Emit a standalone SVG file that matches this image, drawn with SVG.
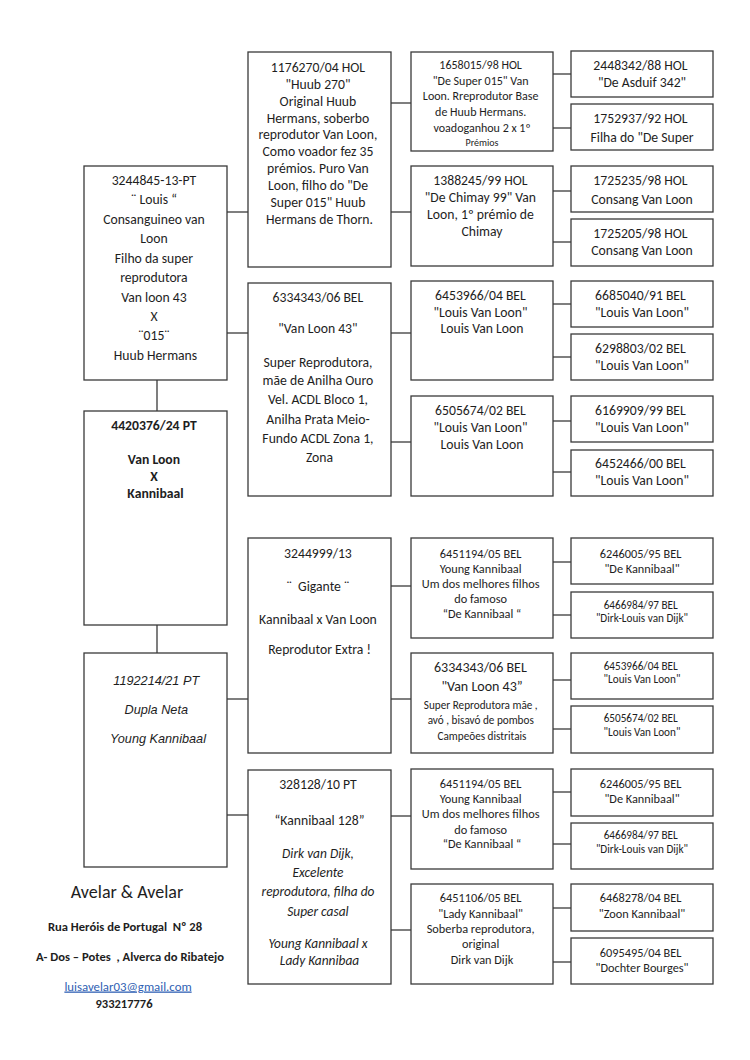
<svg xmlns="http://www.w3.org/2000/svg" width="750" height="1060" viewBox="0 0 750 1060">
<style>
  rect.box { fill: #ffffff; stroke: #3a3a3a; stroke-width: 1.3; }
  .conn line { stroke: #3a3a3a; stroke-width: 1.3; }
  text { font-family: Carlito, Lato, "Liberation Sans", sans-serif; fill: #1e1e1e; text-anchor: middle; font-size: 13.7px; }
  .s105 { font-size: 12px; }
  .s11 { font-size: 12.3px; }
  .s10 { font-size: 11.2px; }
  .s13 { font-size: 14px; }
  .it { font-style: italic; font-size: 13.4px; }
  .b { font-weight: bold; }
  .arial { font-family: "Liberation Sans", Arial, sans-serif; font-style: italic; font-size: 12.7px; }
</style>
<rect width="750" height="1060" fill="#ffffff"/>

<g id="connectors" class="conn">
  <line x1="227" y1="212" x2="248" y2="212"/>
  <line x1="227" y1="333" x2="248" y2="333"/>
  <line x1="157" y1="380" x2="157" y2="411"/>
  <line x1="157" y1="625" x2="157" y2="653"/>
  <line x1="227" y1="699" x2="248" y2="699"/>
  <line x1="227" y1="815" x2="248" y2="815"/>
  <line x1="391" y1="103" x2="411" y2="103"/>
  <line x1="391" y1="212" x2="411" y2="212"/>
  <line x1="553" y1="74" x2="571" y2="74"/>
  <line x1="553" y1="128" x2="571" y2="128"/>
  <line x1="553" y1="191" x2="571" y2="191"/>
  <line x1="553" y1="242" x2="571" y2="242"/>
  <line x1="391" y1="333" x2="411" y2="333"/>
  <line x1="391" y1="442" x2="411" y2="442"/>
  <line x1="553" y1="304" x2="571" y2="304"/>
  <line x1="553" y1="357" x2="571" y2="357"/>
  <line x1="553" y1="421" x2="571" y2="421"/>
  <line x1="553" y1="472" x2="571" y2="472"/>
  <line x1="391" y1="586" x2="411" y2="586"/>
  <line x1="391" y1="699" x2="411" y2="699"/>
  <line x1="553" y1="562" x2="571" y2="562"/>
  <line x1="553" y1="615" x2="571" y2="615"/>
  <line x1="553" y1="680" x2="571" y2="680"/>
  <line x1="553" y1="729" x2="571" y2="729"/>
  <line x1="391" y1="816" x2="411" y2="816"/>
  <line x1="391" y1="930" x2="411" y2="930"/>
  <line x1="553" y1="792" x2="571" y2="792"/>
  <line x1="553" y1="844" x2="571" y2="844"/>
  <line x1="553" y1="908" x2="571" y2="908"/>
  <line x1="553" y1="962" x2="571" y2="962"/>
</g>

<!-- Column 1 -->
<g id="n3244845">
  <rect class="box" x="84" y="166" width="143" height="214"/>
  <text>
    <tspan x="155.5" y="185">3244845-13-PT</tspan>
    <tspan x="155.5" y="204">¨ Louis “</tspan>
    <tspan x="155.5" y="224">Consanguineo van</tspan>
    <tspan x="155.5" y="243">Loon</tspan>
    <tspan x="155.5" y="263">Filho da super</tspan>
    <tspan x="155.5" y="282">reprodutora</tspan>
    <tspan x="155.5" y="302">Van loon 43</tspan>
    <tspan x="155.5" y="321">X</tspan>
    <tspan x="155.5" y="340">¨015¨</tspan>
    <tspan x="155.5" y="360">Huub Hermans</tspan>
  </text>
</g>
<g id="n4420376">
  <rect class="box" x="84" y="411" width="143" height="214"/>
  <text class="b">
    <tspan x="155.5" y="430">4420376/24 PT</tspan>
    <tspan x="155.5" y="464">Van Loon</tspan>
    <tspan x="155.5" y="481">X</tspan>
    <tspan x="155.5" y="498">Kannibaal</tspan>
  </text>
</g>
<g id="n1192214">
  <rect class="box" x="84" y="653" width="143" height="214"/>
  <text class="arial">
    <tspan x="158" y="684.5">1192214/21 PT</tspan>
    <tspan x="158" y="713.5">Dupla Neta</tspan>
    <tspan x="158" y="742.5">Young Kannibaal</tspan>
  </text>
</g>

<!-- Column 2 -->
<g id="n1176270">
  <rect class="box" x="248" y="52" width="143" height="215"/>
  <text>
    <tspan x="319.5" y="71.5">1176270/04 HOL</tspan>
    <tspan x="319.5" y="88.5">"Huub 270"</tspan>
    <tspan x="319.5" y="105.5">Original Huub</tspan>
    <tspan x="319.5" y="122.5">Hermans, soberbo</tspan>
    <tspan x="319.5" y="139">reprodutor Van Loon,</tspan>
    <tspan x="319.5" y="156">Como voador fez 35</tspan>
    <tspan x="319.5" y="172.5">prémios. Puro Van</tspan>
    <tspan x="319.5" y="189.5">Loon, filho do "De</tspan>
    <tspan x="319.5" y="207">Super 015" Huub</tspan>
    <tspan x="319.5" y="223.5">Hermans de Thorn.</tspan>
  </text>
</g>
<g id="n6334343a">
  <rect class="box" x="248" y="283" width="143" height="213"/>
  <text>
    <tspan x="319.5" y="302">6334343/06 BEL</tspan>
    <tspan x="319.5" y="333">"Van Loon 43"</tspan>
    <tspan x="319.5" y="367">Super Reprodutora,</tspan>
    <tspan x="319.5" y="385">mãe de Anilha Ouro</tspan>
    <tspan x="319.5" y="404">Vel. ACDL Bloco 1,</tspan>
    <tspan x="319.5" y="424">Anilha Prata Meio-</tspan>
    <tspan x="319.5" y="443">Fundo ACDL Zona 1,</tspan>
    <tspan x="319.5" y="462">Zona</tspan>
  </text>
</g>
<g id="n3244999">
  <rect class="box" x="248" y="538" width="143" height="215"/>
  <text>
    <tspan x="319.5" y="557.5">3244999/13</tspan>
    <tspan x="319.5" y="591" xml:space="preserve">¨  Gigante ¨</tspan>
    <tspan x="319.5" y="624">Kannibaal x Van Loon</tspan>
    <tspan x="319.5" y="654">Reprodutor Extra !</tspan>
  </text>
</g>
<g id="n328128">
  <rect class="box" x="248" y="770" width="143" height="214"/>
  <text>
    <tspan x="319.5" y="789">328128/10 PT</tspan>
    <tspan x="319.5" y="825">“Kannibaal 128”</tspan>
  </text>
  <text class="it">
    <tspan x="319.5" y="858">Dirk van Dijk,</tspan>
    <tspan x="319.5" y="877">Excelente</tspan>
    <tspan x="319.5" y="896">reprodutora, filha do</tspan>
    <tspan x="319.5" y="916">Super casal</tspan>
    <tspan x="319.5" y="948">Young Kannibaal x</tspan>
    <tspan x="319.5" y="965">Lady Kannibaa</tspan>
  </text>
</g>

<!-- Column 3 -->
<g id="n1658015">
  <rect class="box" x="411" y="52" width="142" height="99"/>
  <text class="s105">
    <tspan x="482" y="69">1658015/98 HOL</tspan>
    <tspan x="482" y="84.5">"De Super 015" Van</tspan>
    <tspan x="482" y="100">Loon. Rreprodutor Base</tspan>
    <tspan x="482" y="116">de Huub Hermans.</tspan>
    <tspan x="482" y="132">voadoganhou 2 x 1º</tspan>
  </text>
  <text style="font-size:10px"><tspan x="482" y="145.5">Prémios</tspan></text>
</g>
<g id="n1388245">
  <rect class="box" x="411" y="166" width="142" height="100"/>
  <text>
    <tspan x="482" y="185">1388245/99 HOL</tspan>
    <tspan x="482" y="202">"De Chimay 99" Van</tspan>
    <tspan x="482" y="219">Loon, 1º prémio de</tspan>
    <tspan x="482" y="236">Chimay</tspan>
  </text>
</g>
<g id="n6453966a">
  <rect class="box" x="411" y="281" width="142" height="99"/>
  <text>
    <tspan x="482" y="300">6453966/04 BEL</tspan>
    <tspan x="482" y="317">"Louis Van Loon"</tspan>
    <tspan x="482" y="333">Louis Van Loon</tspan>
  </text>
</g>
<g id="n6505674a">
  <rect class="box" x="411" y="396" width="142" height="100"/>
  <text>
    <tspan x="482" y="415">6505674/02 BEL</tspan>
    <tspan x="482" y="432">"Louis Van Loon"</tspan>
    <tspan x="482" y="449">Louis Van Loon</tspan>
  </text>
</g>
<g id="n6451194a">
  <rect class="box" x="411" y="538" width="142" height="100"/>
  <text class="s11">
    <tspan x="482" y="557.5">6451194/05 BEL</tspan>
    <tspan x="482" y="572.5">Young Kannibaal</tspan>
    <tspan x="482" y="587.5">Um dos melhores filhos</tspan>
    <tspan x="482" y="602.5">do famoso</tspan>
    <tspan x="482" y="617.5">“De Kannibaal “</tspan>
  </text>
</g>
<g id="n6334343b">
  <rect class="box" x="411" y="653" width="142" height="100"/>
  <text class="s13">
    <tspan x="482" y="672">6334343/06 BEL</tspan>
    <tspan x="482" y="691">"Van Loon 43”</tspan>
  </text>
  <text class="s10">
    <tspan x="482" y="709">Super Reprodutora mãe ,</tspan>
    <tspan x="482" y="724">avó , bisavó de pombos</tspan>
    <tspan x="482" y="740">Campeões distritais</tspan>
  </text>
</g>
<g id="n6451194b">
  <rect class="box" x="411" y="769" width="142" height="100"/>
  <text class="s11">
    <tspan x="482" y="787.5">6451194/05 BEL</tspan>
    <tspan x="482" y="802.5">Young Kannibaal</tspan>
    <tspan x="482" y="817.5">Um dos melhores filhos</tspan>
    <tspan x="482" y="833.5">do famoso</tspan>
    <tspan x="482" y="847.5">“De Kannibaal “</tspan>
  </text>
</g>
<g id="n6451106">
  <rect class="box" x="411" y="884" width="142" height="100"/>
  <text class="s11">
    <tspan x="482" y="901.5">6451106/05 BEL</tspan>
    <tspan x="482" y="917.5">"Lady Kannibaal"</tspan>
    <tspan x="482" y="932.5">Soberba reprodutora,</tspan>
    <tspan x="482" y="947.5">original</tspan>
    <tspan x="482" y="963.5">Dirk van Dijk</tspan>
  </text>
</g>

<!-- Column 4 -->
<g id="n2448342">
  <rect class="box" x="571" y="51" width="142" height="46"/>
  <text>
    <tspan x="642" y="70">2448342/88 HOL</tspan>
    <tspan x="642" y="87">"De Asduif 342"</tspan>
  </text>
</g>
<g id="n1752937">
  <rect class="box" x="571" y="104" width="142" height="46"/>
  <text>
    <tspan x="642" y="123">1752937/92 HOL</tspan>
    <tspan x="642" y="142">Filha do "De Super</tspan>
  </text>
</g>
<g id="n1725235">
  <rect class="box" x="571" y="166" width="142" height="46"/>
  <text>
    <tspan x="642" y="185">1725235/98 HOL</tspan>
    <tspan x="642" y="204">Consang Van Loon</tspan>
  </text>
</g>
<g id="n1725205">
  <rect class="box" x="571" y="219" width="142" height="47"/>
  <text>
    <tspan x="642" y="238">1725205/98 HOL</tspan>
    <tspan x="642" y="255">Consang Van Loon</tspan>
  </text>
</g>
<g id="n6685040">
  <rect class="box" x="571" y="281" width="142" height="46"/>
  <text>
    <tspan x="642" y="300">6685040/91 BEL</tspan>
    <tspan x="642" y="317">"Louis Van Loon"</tspan>
  </text>
</g>
<g id="n6298803">
  <rect class="box" x="571" y="334" width="142" height="46"/>
  <text>
    <tspan x="642" y="353">6298803/02 BEL</tspan>
    <tspan x="642" y="370">"Louis Van Loon"</tspan>
  </text>
</g>
<g id="n6169909">
  <rect class="box" x="571" y="396" width="142" height="46"/>
  <text>
    <tspan x="642" y="415">6169909/99 BEL</tspan>
    <tspan x="642" y="432">"Louis Van Loon"</tspan>
  </text>
</g>
<g id="n6452466">
  <rect class="box" x="571" y="450" width="142" height="46"/>
  <text>
    <tspan x="642" y="468">6452466/00 BEL</tspan>
    <tspan x="642" y="485">"Louis Van Loon"</tspan>
  </text>
</g>
<g id="n6246005a">
  <rect class="box" x="571" y="538" width="142" height="46"/>
  <text class="s11">
    <tspan x="642" y="557.5">6246005/95 BEL</tspan>
    <tspan x="642" y="572.5">"De Kannibaal"</tspan>
  </text>
</g>
<g id="n6466984a">
  <rect class="box" x="571" y="592" width="142" height="46"/>
  <text class="s10">
    <tspan x="642" y="609">6466984/97 BEL</tspan>
    <tspan x="642" y="622">"Dirk-Louis van Dijk"</tspan>
  </text>
</g>
<g id="n6453966b">
  <rect class="box" x="571" y="653" width="142" height="46"/>
  <text class="s10">
    <tspan x="642" y="670">6453966/04 BEL</tspan>
    <tspan x="642" y="683">"Louis Van Loon"</tspan>
  </text>
</g>
<g id="n6505674b">
  <rect class="box" x="571" y="706" width="142" height="47"/>
  <text class="s10">
    <tspan x="642" y="722">6505674/02 BEL</tspan>
    <tspan x="642" y="736">"Louis Van Loon"</tspan>
  </text>
</g>
<g id="n6246005b">
  <rect class="box" x="571" y="769" width="142" height="47"/>
  <text class="s11">
    <tspan x="642" y="787.5">6246005/95 BEL</tspan>
    <tspan x="642" y="802.5">"De Kannibaal"</tspan>
  </text>
</g>
<g id="n6466984b">
  <rect class="box" x="571" y="823" width="142" height="46"/>
  <text class="s10">
    <tspan x="642" y="839">6466984/97 BEL</tspan>
    <tspan x="642" y="853">"Dirk-Louis van Dijk"</tspan>
  </text>
</g>
<g id="n6468278">
  <rect class="box" x="571" y="884" width="142" height="47"/>
  <text class="s11">
    <tspan x="642" y="901.5">6468278/04 BEL</tspan>
    <tspan x="642" y="917.5">"Zoon Kannibaal"</tspan>
  </text>
</g>
<g id="n6095495">
  <rect class="box" x="571" y="938" width="142" height="46"/>
  <text class="s11">
    <tspan x="642" y="956.5">6095495/04 BEL</tspan>
    <tspan x="642" y="971.5">"Dochter Bourges"</tspan>
  </text>
</g>

<!-- Footer -->
<g id="footer">
  <text style="font-size:18px"><tspan x="127" y="898">Avelar &amp; Avelar</tspan></text>
  <text class="b" style="font-size:12.6px"><tspan x="125" y="930.5" xml:space="preserve">Rua Heróis de Portugal  Nº 28</tspan></text>
  <text class="b" style="font-size:12.6px"><tspan x="130" y="960.5" xml:space="preserve">A- Dos – Potes  , Alverca do Ribatejo</tspan></text>
  <text style="font-size:12.8px; fill:#2f5fb3; text-decoration:underline"><tspan x="128" y="990.5">luisavelar03@gmail.com</tspan></text>
  <text class="b" style="font-size:12.5px"><tspan x="124" y="1007.5">933217776</tspan></text>
</g>
</svg>
